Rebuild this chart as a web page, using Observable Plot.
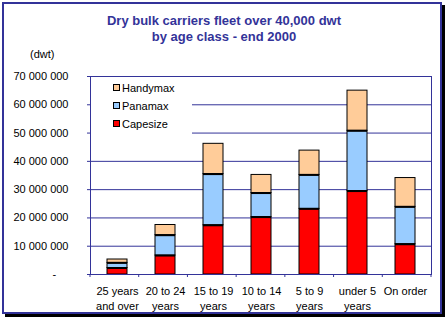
<!DOCTYPE html>
<html><head><meta charset="utf-8">
<script src="https://cdn.jsdelivr.net/npm/d3@7"></script>
<script src="https://cdn.jsdelivr.net/npm/@observablehq/plot@0.6"></script>
<style>
body{margin:0;background:#fff;}
#wrap{position:relative;width:448px;height:326px;font-family:Arial,"Liberation Sans",sans-serif;overflow:hidden;background:#fff;}
#wrap svg{position:absolute;left:0;top:0;}
.frame{position:absolute;left:2px;top:2px;width:436px;height:308px;border:2px solid #333399;box-shadow:3px 3px 0 #000;pointer-events:none;}
.title{position:absolute;left:0;top:13px;width:448px;text-align:center;color:#333399;font-weight:bold;font-size:13px;line-height:16px;}
.unit{position:absolute;left:30px;top:47px;font-size:11px;line-height:14px;color:#000;}
.legend{position:absolute;left:91px;top:78px;width:101px;height:58px;background:#fff;}
.item{position:absolute;left:22px;height:14px;line-height:14px;font-size:11px;color:#000;white-space:nowrap;}
.sw{position:absolute;left:0;top:3px;width:5px;height:5px;border:1px solid #000;}
.item span.t{position:absolute;left:9px;top:0;}
</style>
</head><body>
<div id="wrap"></div>
<script>
const categories = ["25 years and over", "20 to 24 years", "15 to 19 years", "10 to 14 years", "5 to 9 years", "under 5 years", "On order"];
const xLabels = ["25 years\nand over", "20 to 24\nyears", "15 to 19\nyears", "10 to 14\nyears", "5 to 9\nyears", "under 5\nyears", "On order"];
const capesize = [2.3e6, 6.7e6, 17.4e6, 20.3e6, 23.2e6, 29.5e6, 10.7e6];
const panamax  = [1.8e6, 7.2e6, 18.1e6, 8.5e6, 12.0e6, 21.3e6, 13.2e6];
const handymax = [1.2e6, 3.6e6, 10.7e6, 6.4e6, 8.6e6, 14.2e6, 10.2e6];
const seriesNames = ["Capesize", "Panamax", "Handymax"];
const seriesColors = ["#FF0000", "#99CCFF", "#FFCC99"];
const yTicks = [0, 10e6, 20e6, 30e6, 40e6, 50e6, 60e6, 70e6];
const gridValues = [10e6, 20e6, 30e6, 40e6, 50e6, 60e6];
const legendOrder = ["Handymax", "Panamax", "Capesize"];

const seriesValues = [capesize, panamax, handymax];
const rows = [];
categories.forEach((c, i) => {
  seriesNames.forEach((s, j) => rows.push({cat: c, type: s, value: seriesValues[j][i]}));
});

const yFormat = d => d === 0 ? "-\u00a0\u00a0\u00a0\u00a0" : d3.format(",")(d).replace(/,/g, " ");

const plot = Plot.plot({
  width: 448, height: 326,
  marginLeft: 90, marginRight: 17, marginTop: 76, marginBottom: 52,
  x: {domain: categories, paddingInner: 0.59, paddingOuter: 0.295, label: null},
  y: {domain: [0, 70e6], label: null},
  color: {domain: seriesNames, range: seriesColors},
  style: {fontFamily: "Arial, 'Liberation Sans', sans-serif", fontSize: "11px", background: "transparent", color: "black"},
  marks: [
    Plot.ruleY(gridValues, {stroke: "#333399", strokeWidth: 1}),
    Plot.barY(rows, {x: "cat", y: "value", fill: "type", stroke: "black", strokeWidth: 1}),
    Plot.tickY(rows, Plot.stackY2({x: "cat", y: "value", stroke: "black", strokeWidth: 2,
      strokeOpacity: d => d.type === "Handymax" ? 0 : 1})),
    Plot.frame({stroke: "#333399"}),
    Plot.axisY({ticks: yTicks, tickSize: 3, tickPadding: 19, stroke: "#333399", fill: "black", tickFormat: yFormat}),
    Plot.axisX({tickSize: 0, tickPadding: 10, tickFormat: (d) => xLabels[categories.indexOf(d)], lineHeight: 1.36, fill: "black"})
  ]
});

const wrap = document.getElementById("wrap");
wrap.appendChild(plot);

// category boundary ticks on x axis
const xs = plot.scale("x");
const ys = plot.scale("y");
const [r0, r1] = xs.range;
const y0 = ys.apply(0);
const svg = d3.select(plot);
for (let i = 0; i <= categories.length; i++) {
  const xx = r0 + i * (r1 - r0) / categories.length;
  svg.append("line").attr("x1", xx).attr("x2", xx).attr("y1", y0).attr("y2", y0 + 3)
    .attr("stroke", "#333399").attr("stroke-width", 1);
}

// titles
const t = document.createElement("div");
t.className = "title";
t.innerHTML = "Dry bulk carriers fleet over 40,000 dwt<br>by age class - end 2000";
wrap.appendChild(t);
const u = document.createElement("div");
u.className = "unit";
u.textContent = "(dwt)";
wrap.appendChild(u);

// legend
const lg = document.createElement("div");
lg.className = "legend";
legendOrder.forEach((name, k) => {
  const it = document.createElement("div");
  it.className = "item";
  it.style.top = (2.7 + k * 18.2) + "px";
  const sw = document.createElement("span");
  sw.className = "sw";
  sw.style.background = seriesColors[seriesNames.indexOf(name)];
  const tx = document.createElement("span");
  tx.className = "t";
  tx.textContent = name;
  it.appendChild(sw); it.appendChild(tx);
  lg.appendChild(it);
});
wrap.appendChild(lg);

const f = document.createElement("div");
f.className = "frame";
wrap.appendChild(f);
</script>
</body></html>
